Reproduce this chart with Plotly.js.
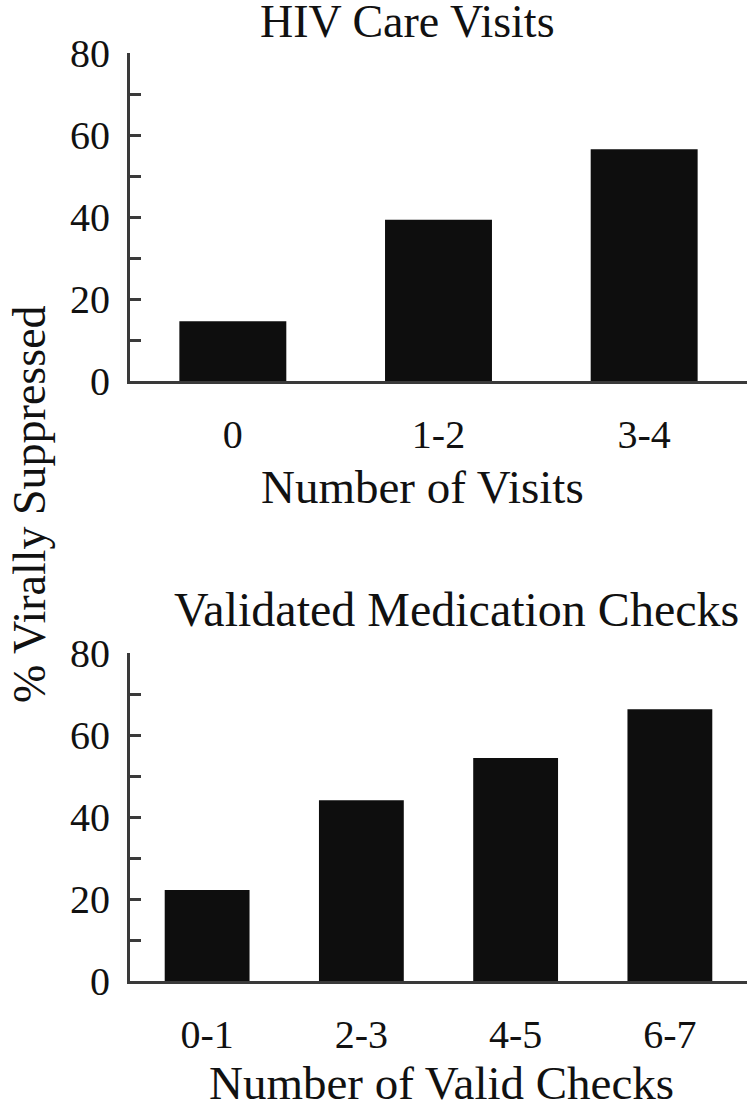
<!DOCTYPE html>
<html>
<head>
<meta charset="utf-8">
<script src="https://cdn.plot.ly/plotly-3.0.1.min.js"></script>
<style>html,body{margin:0;padding:0;background:#fff;}#chart{width:750px;height:1109px;}</style>
</head>
<body>
<div id="chart"></div>
<script>
// Data
var visitCategories = ["0", "1-2", "3-4"];
var visitSuppressed = [14.6, 39.3, 56.5];
var checkCategories = ["0-1", "2-3", "4-5", "6-7"];
var checkSuppressed = [22.2, 44.1, 54.4, 66.3];
var yTickValues = [0, 10, 20, 30, 40, 50, 60, 70, 80];
var yTickLabels = ["0", "", "20", "", "40", "", "60", "", "80"];
var topTitle = "HIV Care Visits";
var bottomTitle = "Validated Medication Checks";
var topXTitle = "Number of Visits";
var bottomXTitle = "Number of Valid Checks";
var yTitle = "% Virally Suppressed";

var W = 750, H = 1109;
var FONT = "Liberation Serif, Times New Roman, serif";
var ink = "#111111";
function px(x) { return x / W; }
function py(y) { return 1 - y / H; }

var traces = [
  { type: "bar", x: visitCategories, y: visitSuppressed, xaxis: "x", yaxis: "y",
    width: 0.52, marker: { color: "#0e0e0e", line: { width: 0 } }, hoverinfo: "x+y" },
  { type: "bar", x: checkCategories, y: checkSuppressed, xaxis: "x2", yaxis: "y2",
    width: 0.55, marker: { color: "#0e0e0e", line: { width: 0 } }, hoverinfo: "x+y" }
];

function yAxis(domain, anchor) {
  return {
    domain: domain, anchor: anchor, range: [0, 80], autorange: false, fixedrange: true,
    tickmode: "array", tickvals: yTickValues, ticktext: yTickLabels,
    ticks: "inside", ticklen: 11, tickwidth: 3, tickcolor: "#3a3a3a",
    showline: true, linecolor: "#3a3a3a", linewidth: 3,
    showgrid: false, zeroline: false,
    tickfont: { family: FONT, size: 40, color: ink },
    ticklabelstandoff: 9
  };
}
function xAxis(domain, anchor, n) {
  return {
    domain: domain, anchor: anchor, type: "category", range: [-0.5, n - 0.5], fixedrange: true,
    showline: true, linecolor: "#3a3a3a", linewidth: 3,
    ticks: "", showgrid: false, zeroline: false,
    tickfont: { family: FONT, size: 40, color: ink },
    ticklabelstandoff: 16
  };
}

var layout = {
  width: W, height: H,
  margin: { l: 0, r: 0, t: 0, b: 0 },
  paper_bgcolor: "#ffffff", plot_bgcolor: "#ffffff",
  showlegend: false,
  font: { family: FONT, color: ink },
  xaxis: xAxis([px(130), px(747)], "y", visitCategories.length),
  yaxis: yAxis([py(381), py(53)], "x"),
  xaxis2: xAxis([px(130), px(747)], "y2", checkCategories.length),
  yaxis2: yAxis([py(981), py(653)], "x2"),
  annotations: [
    { text: topTitle, xref: "paper", yref: "paper", x: px(407), y: py(22), xanchor: "center", yanchor: "middle",
      showarrow: false, font: { family: FONT, size: 46, color: ink } },
    { text: bottomTitle, xref: "paper", yref: "paper", x: px(456), y: py(609), xanchor: "center", yanchor: "middle",
      showarrow: false, font: { family: FONT, size: 48, color: ink } },
    { text: topXTitle, xref: "paper", yref: "paper", x: px(422), y: py(487), xanchor: "center", yanchor: "middle",
      showarrow: false, font: { family: FONT, size: 47, color: ink } },
    { text: bottomXTitle, xref: "paper", yref: "paper", x: px(441), y: py(1083), xanchor: "center", yanchor: "middle",
      showarrow: false, font: { family: FONT, size: 47, color: ink } },
    { text: yTitle, xref: "paper", yref: "paper", x: px(29), y: py(504), xanchor: "center", yanchor: "middle",
      textangle: -90, showarrow: false, font: { family: FONT, size: 46, color: ink } }
  ]
};

Plotly.newPlot("chart", traces, layout, { displayModeBar: false, staticPlot: true });
</script>
</body>
</html>
